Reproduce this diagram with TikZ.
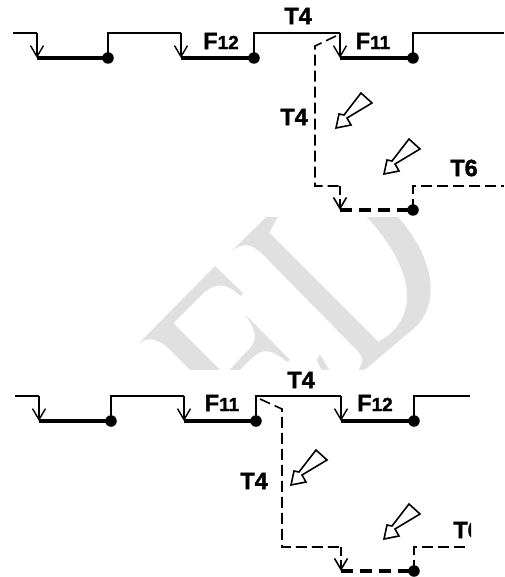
\documentclass[tikz,border=0pt]{standalone}
\usepackage{fontspec}
\setmainfont{Liberation Sans}[BoldFont={Liberation Sans Bold},BoldFeatures={FakeBold=1.6}]
\usetikzlibrary{arrows.meta}
\definecolor{wm}{HTML}{E0E0E0}
\tikzset{
  x=1pt,y=-1pt,
  hairrun/.style={line width=1.4pt,line join=miter},
  heavyrun/.style={line width=3.2pt,line cap=butt},
  drop/.style={line width=1.4pt,-{Straight Barb[length=11pt,width=13pt,line width=1.4pt]}},
  dashline/.style={line width=1.6pt,dash pattern=on 11pt off 5pt},
  dashdrop/.style={line width=1.6pt,dash pattern=on 9pt off 4pt,-{Straight Barb[length=11pt,width=13pt,line width=1.6pt]}},
  lowdash/.style={line width=3.4pt,dash pattern=on 12pt off 7pt},
  dot/.style={circle,fill=black,inner sep=0pt,minimum size=11.5pt},
  lbl/.style={inner sep=0pt,font=\fontsize{23.5}{24}\selectfont\bfseries},
  hollow/.style={draw=black,fill=white,line width=1.6pt,line join=miter},
}
\newcommand{\subl}[2]{#1{\fontsize{19}{19}\selectfont #2}}
\newcommand{\hollowarrow}[1]{%
  \draw[hollow,shift={(#1)}] (0,0) -- (15,-3) -- (11,-10) -- (36,-25) -- (25,-35) -- (8,-13) -- (3,-14) -- cycle;}
\begin{document}
\begin{tikzpicture}
\useasboundingbox (0,0) rectangle (504,577);
% watermark
\begin{scope}
\clip (0,217) rectangle (504,369);
\begin{scope}[x=0.3333pt,y=-0.3333pt,shift={(0,600)}]
\fill[wm] (693,155) -- (815,35) -- (842,35) -- (808,98) -- (1135,425)
  .. controls (1250,365) and (1265,220) .. (1085,35) -- (1180,35)
  .. controls (1320,185) and (1320,330) .. (1230,395) -- (1100,505) -- (1060,530)
  .. controls (1095,490) and (1095,470) .. (1060,440) -- (790,165)
  .. controls (755,130) and (730,125) .. (693,155) -- cycle;
\fill[wm] (412,435) -- (645,198) -- (730,280) -- (722,288)
  .. controls (680,250) and (650,245) .. (610,280) -- (520,370) -- (680,530) -- (590,530) -- (510,450)
  .. controls (470,410) and (440,410) .. (412,435) -- cycle;
\fill[wm] (735,343) -- (870,480) -- (862,486) .. controls (810,445) and (790,445) .. (755,475)
  -- (700,530) -- (670,530) -- (745,450) .. controls (775,420) and (770,395) .. (735,343) -- cycle;
\fill[wm] (960,463) -- (1000,530) -- (975,530) -- (950,480) -- cycle;
\end{scope}
\end{scope}
% ---------- upper diagram
\coordinate (as) at (13,33);
\coordinate (a1t) at (37,33);  \coordinate (a1b) at (37,58);
\node[dot] (a1d) at (108,58) {}; \coordinate (a1u) at (108,33);
\coordinate (a2t) at (181,33); \coordinate (a2b) at (181,58);
\node[dot] (a2d) at (254,58) {}; \coordinate (a2u) at (254,33);
\coordinate (a3t) at (340,33); \coordinate (a3b) at (340,58);
\node[dot] (a3d) at (413,58) {}; \coordinate (a3u) at (413,33);
\coordinate (ae) at (504,33);
\draw[hairrun] (as) -- (a1t);
\draw[drop] (a1t) -- (a1b);
\draw[heavyrun] (a1b) -- (a1d.center);
\draw[hairrun] (a1d.center) -- (a1u) -- (a2t);
\draw[drop] (a2t) -- (a2b);
\draw[heavyrun] (a2b) -- (a2d.center);
\draw[hairrun] (a2d.center) -- (a2u) -- (a3t);
\draw[drop] (a3t) -- (a3b);
\draw[heavyrun] (a3b) -- (a3d.center);
\draw[hairrun] (a3d.center) -- (a3u) -- (ae);
% dashed branch
\coordinate (b0) at (336,36); \coordinate (b1) at (315,46); \coordinate (b2) at (315,186);
\coordinate (b3) at (340,186); \coordinate (b4) at (340,210);
\node[dot] (bd) at (413,210) {}; \coordinate (bu) at (413,186); \coordinate (be) at (504,186);
\draw[dashline] (b0) -- (b1) -- (b2) -- (b3);
\draw[dashdrop] (b3) -- (b4);
\draw[lowdash] (b4) -- (bd.center);
\draw[dashline] (bd.center) -- (bu) -- (be);
\hollowarrow{336,128}
\hollowarrow{384,174}
\node[lbl] (l1) at (298,16) {T4};
\node[lbl] (l2) at (221,41) {\subl{F}{12}};
\node[lbl] (l3) at (373,41) {\subl{F}{11}};
\node[lbl] (l4) at (294,117) {T4};
\node[lbl] (l5) at (464,168) {T6};
% ---------- lower diagram
\coordinate (cs) at (15,396);
\coordinate (c1t) at (39,396);  \coordinate (c1b) at (39,421);
\node[dot] (c1d) at (111,421) {}; \coordinate (c1u) at (111,396);
\coordinate (c2t) at (184,396); \coordinate (c2b) at (184,421);
\node[dot] (c2d) at (256,421) {}; \coordinate (c2u) at (256,396);
\coordinate (c3t) at (341,396); \coordinate (c3b) at (341,421);
\node[dot] (c3d) at (414,421) {}; \coordinate (c3u) at (414,396);
\coordinate (ce) at (470,396);
\draw[hairrun] (cs) -- (c1t);
\draw[drop] (c1t) -- (c1b);
\draw[heavyrun] (c1b) -- (c1d.center);
\draw[hairrun] (c1d.center) -- (c1u) -- (c2t);
\draw[drop] (c2t) -- (c2b);
\draw[heavyrun] (c2b) -- (c2d.center);
\draw[hairrun] (c2d.center) -- (c2u) -- (c3t);
\draw[drop] (c3t) -- (c3b);
\draw[heavyrun] (c3b) -- (c3d.center);
\draw[hairrun] (c3d.center) -- (c3u) -- (ce);
\coordinate (d0) at (260,399); \coordinate (d1) at (282,409); \coordinate (d2) at (282,547);
\coordinate (d3) at (341,547); \coordinate (d4) at (341,571);
\node[dot] (dd) at (414,571) {}; \coordinate (du) at (414,547); \coordinate (de) at (468,547);
\draw[dashline] (d0) -- (d1) -- (d2) -- (d3);
\draw[dashdrop] (d3) -- (d4);
\draw[lowdash] (d4) -- (dd.center);
\draw[dashline] (dd.center) -- (du) -- (de);
\hollowarrow{291,485}
\hollowarrow{384,539}
\node[lbl] (m1) at (301,380) {T4};
\node[lbl] (m2) at (222,403) {\subl{F}{11}};
\node[lbl] (m3) at (375,403) {\subl{F}{12}};
\node[lbl] (m4) at (254,481) {T4};
\begin{scope}
\clip (440,520) rectangle (471,545);
\node[lbl] (m5) at (467,530) {T6};
\end{scope}
\end{tikzpicture}
\end{document}
